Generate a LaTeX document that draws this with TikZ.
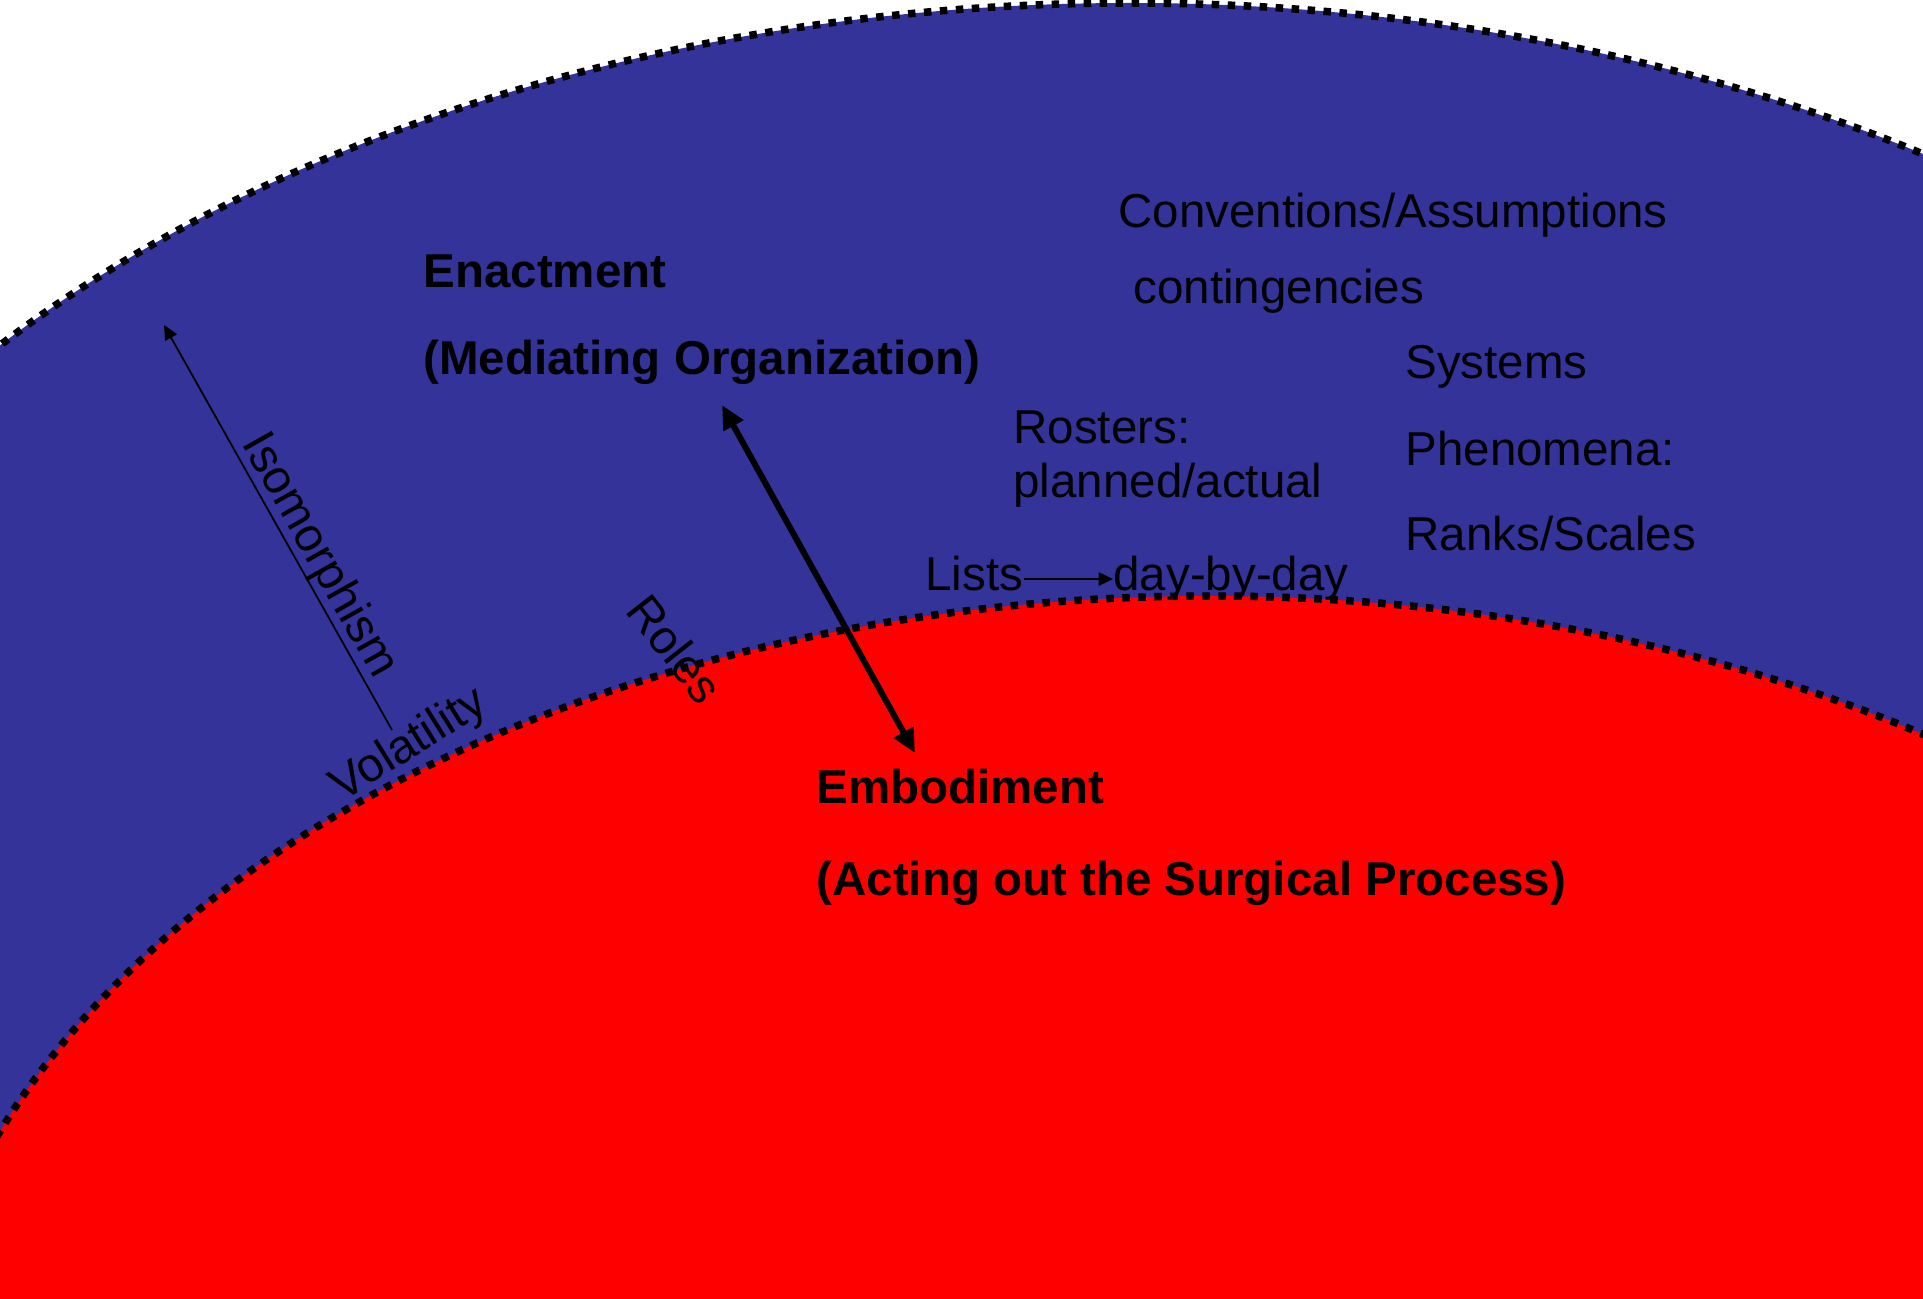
\documentclass[tikz,border=0pt]{standalone}
\usepackage{fontspec}
\setmainfont{Liberation Sans}
\usetikzlibrary{arrows.meta}

\definecolor{ringblue}{RGB}{51,51,153}
\definecolor{corered}{RGB}{255,0,0}

\begin{document}
\begin{tikzpicture}[x=0.4pt,y=0.4pt,yscale=-1,xscale=1,
  lbl/.style={inner sep=0pt, anchor=base west, font=\fontsize{19}{23}\selectfont},
  blbl/.style={lbl, font=\fontsize{19}{23}\selectfont\bfseries},
  rotlbl/.style={inner sep=0pt, anchor=base, font=\fontsize{19}{23}\selectfont},
  rim/.style={line width=3pt, dash pattern=on 3pt off 3.4pt},
  thinarr/.style={line width=0.7pt, -{Triangle[length=5.8pt,width=5.4pt]}},
  thickarr/.style={line width=2.4pt, {Triangle[length=9.5pt,width=8.6pt]}-{Triangle[length=9.5pt,width=8.6pt]}}]
\useasboundingbox (0,0) rectangle (1923,1298);

%Shapes
\begin{scope}
\clip (0,0) rectangle (1923,1298);
\fill[white] (0,0) rectangle (1923,1298);
\draw[rim, fill=ringblue] (1130,1003) ellipse [x radius=1500, y radius=1000];
\draw[rim, fill=corered] (1210,1441) ellipse [x radius=1300, y radius=845];
\end{scope}

% Text Node
\node[lbl] (conv) at (1118,228) {Conventions/Assumptions};
% Text Node
\node[lbl] (cont) at (1133,303) {contingencies};
% Text Node
\node[lbl] (sys) at (1405,378) {Systems};
% Text Node
\node[lbl] (phen) at (1405,465) {Phenomena:};
% Text Node
\node[lbl] (ranks) at (1405,550) {Ranks/Scales};
% Text Node
\node[lbl] (rost) at (1013,443) {Rosters:};
% Text Node
\node[lbl] (plan) at (1013,497) {planned/actual};
% Text Node
\node[lbl, text depth=5pt] (lists) at (925,590) {Lists};
% Text Node
\node[lbl] (days) at (1113,590) {day-by-day};
% Text Node
\node[blbl] (enact) at (423,288) {Enactment};
% Text Node
\node[blbl] (medi) at (423,374) {(Mediating Organization)};
% Text Node
\node[blbl] (embod) at (816,803) {Embodiment};
% Text Node
\node[blbl] (acting) at (816,895) {(Acting out the Surgical Process)};
% Text Node
\node[rotlbl, rotate=-60.6] (iso) at (308,562) {Isomorphism};
% Text Node
\node[rotlbl, rotate=32] (vol) at (416,756) {Volatility};
% Text Node
\node[rotlbl, rotate=-52] (roles) at (662,659) {Roles};

%Straight Lines
\coordinate (isoA) at (392,730);
\coordinate (isoB) at (164,325);
\draw[thinarr] (isoA) -- (isoB);
%Straight Lines
\coordinate (rolesA) at (722,405);
\coordinate (rolesB) at (915,753);
\draw[thickarr] (rolesA) -- (rolesB);
%Straight Lines
\draw[thinarr] (lists.east) -- (lists.east -| days.west);

\end{tikzpicture}
\end{document}
